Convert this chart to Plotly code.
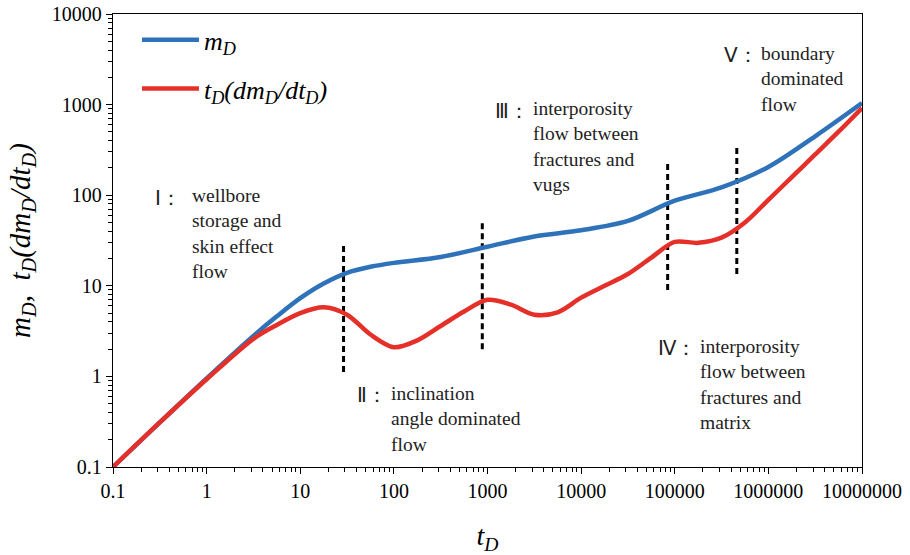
import plotly.graph_objects as go

# Dimensionless pressure m_D versus dimensionless time t_D
t_md = [0.1, 0.316, 1, 3.16, 5.62, 10, 17.8, 31.6, 56.2, 100, 316, 1000, 3160,
        10000, 31600, 100000, 316000, 1000000, 3160000, 10000000]
m_d = [0.1, 0.31, 0.95, 2.8, 4.6, 7.3, 10.6, 13.9, 16.2, 17.9, 20.8, 27, 35,
       41, 52, 87, 122, 205, 447, 1040]

# Pressure derivative t_D(dm_D/dt_D)
t_der = [0.1, 0.316, 1, 3.16, 5.62, 10, 17.8, 31.6, 56.2, 100, 178, 316, 562,
         1000, 1780, 3160, 5620, 10000, 17800, 31600, 56200, 100000, 178000,
         316000, 562000, 1000000, 1780000, 3160000, 5620000, 10000000]
der = [0.1, 0.31, 0.93, 2.6, 3.7, 5.0, 5.8, 4.8, 2.9, 2.1, 2.5, 3.6, 5.2,
       7.0, 6.2, 4.8, 5.1, 7.4, 10.0, 13.5, 20.5, 30.5, 29.8,
       34, 50, 89, 158, 282, 502, 916]

# Flow-regime boundaries: time and vertical extent of each dashed marker
bound_t = [29, 880, 84000, 460000]
bound_lo = [1.12, 2.0, 9.0, 13.5]
bound_hi = [28, 50.6, 232, 349]

x_ticks = [0.1, 1, 10, 100, 1000, 10000, 100000, 1000000, 10000000]
x_text = ["0.1", "1", "10", "100", "1000", "10000", "100000", "1000000", "10000000"]
y_ticks = [0.1, 1, 10, 100, 1000, 10000]
y_text = ["0.1", "1", "10", "100", "1000", "10000"]

regimes = [
    ("Ⅰ：", "wellbore<br>storage and<br>skin effect<br>flow"),
    ("Ⅱ：", "inclination<br>angle dominated<br>flow"),
    ("Ⅲ：", "interporosity<br>flow between<br>fractures and<br>vugs"),
    ("Ⅳ：", "interporosity<br>flow between<br>fractures and<br>matrix"),
    ("Ⅴ：", "boundary<br>dominated<br>flow"),
]
# label anchors in log10 axis units: (numeral x, numeral y, block x, block y)
regime_pos = [
    (-0.573, 1.969, -0.177, 1.572),
    (1.585, -0.205, 1.949, -0.470),
    (3.060, 2.929, 3.466, 2.543),
    (4.801, 0.313, 5.250, -0.084),
    (5.506, 3.547, 5.902, 3.283),
]

SERIF = "Liberation Serif, serif"
BLUE = "#2E72BA"
RED = "#E5302A"

fig = go.Figure()

for bt, lo, hi in zip(bound_t, bound_lo, bound_hi):
    fig.add_trace(go.Scatter(
        x=[bt, bt], y=[lo, hi], mode="lines", showlegend=False,
        line=dict(color="black", width=3, dash="6px,4px"), hoverinfo="skip"))

fig.add_trace(go.Scatter(
    x=t_md, y=m_d, mode="lines", name="<i>m<sub>D</sub></i>",
    line=dict(color=BLUE, width=4.5, shape="spline", smoothing=0.9),
    legendgroup="a"))
fig.add_trace(go.Scatter(
    x=t_der, y=der, mode="lines",
    name="<i>t<sub>D</sub>(dm<sub>D</sub>/dt<sub>D</sub>)</i>",
    line=dict(color=RED, width=4.5, shape="spline", smoothing=0.9),
    legendgroup="b"))

for (num, body), (nx, ny, bx, by) in zip(regimes, regime_pos):
    fig.add_annotation(x=nx, y=ny, xref="x", yref="y", text=num, showarrow=False,
                       xanchor="left", yanchor="middle",
                       font=dict(family=SERIF, size=20, color="#222"))
    fig.add_annotation(x=bx, y=by, xref="x", yref="y", text=body, showarrow=False,
                       xanchor="left", yanchor="middle", align="left",
                       font=dict(family=SERIF, size=19.5, color="#222"))

axis_common = dict(
    type="log", showgrid=False, zeroline=False, automargin=False,
    showline=True, linecolor="black", linewidth=1.3, mirror=True,
    ticks="outside", ticklen=6, tickwidth=1.2, tickcolor="black",
    minor=dict(ticks="outside", ticklen=4, tickwidth=1, tickcolor="black", dtick="D1"),
    tickfont=dict(family=SERIF, size=20, color="black"),
)

fig.update_xaxes(
    **axis_common, range=[-1, 7], tickvals=x_ticks, ticktext=x_text,
    title=dict(text="<i>t<sub>D</sub></i>", font=dict(family=SERIF, size=28, color="black"),
               standoff=24))
fig.update_yaxes(
    **axis_common, range=[-1, 4], tickvals=y_ticks, ticktext=y_text,
    title=dict(text="<i>m<sub>D</sub>,  t<sub>D</sub>(dm<sub>D</sub>/dt<sub>D</sub>)</i>",
               font=dict(family=SERIF, size=29, color="black"), standoff=12))

fig.update_layout(
    width=910, height=555,
    margin=dict(l=113, r=48, t=14, b=88),
    paper_bgcolor="white", plot_bgcolor="white",
    legend=dict(x=0.032, y=0.995, xanchor="left", yanchor="top",
                font=dict(family=SERIF, size=26, color="black"),
                bgcolor="rgba(0,0,0,0)", tracegroupgap=12, itemwidth=57),
)

fig.write_html("out.html")
